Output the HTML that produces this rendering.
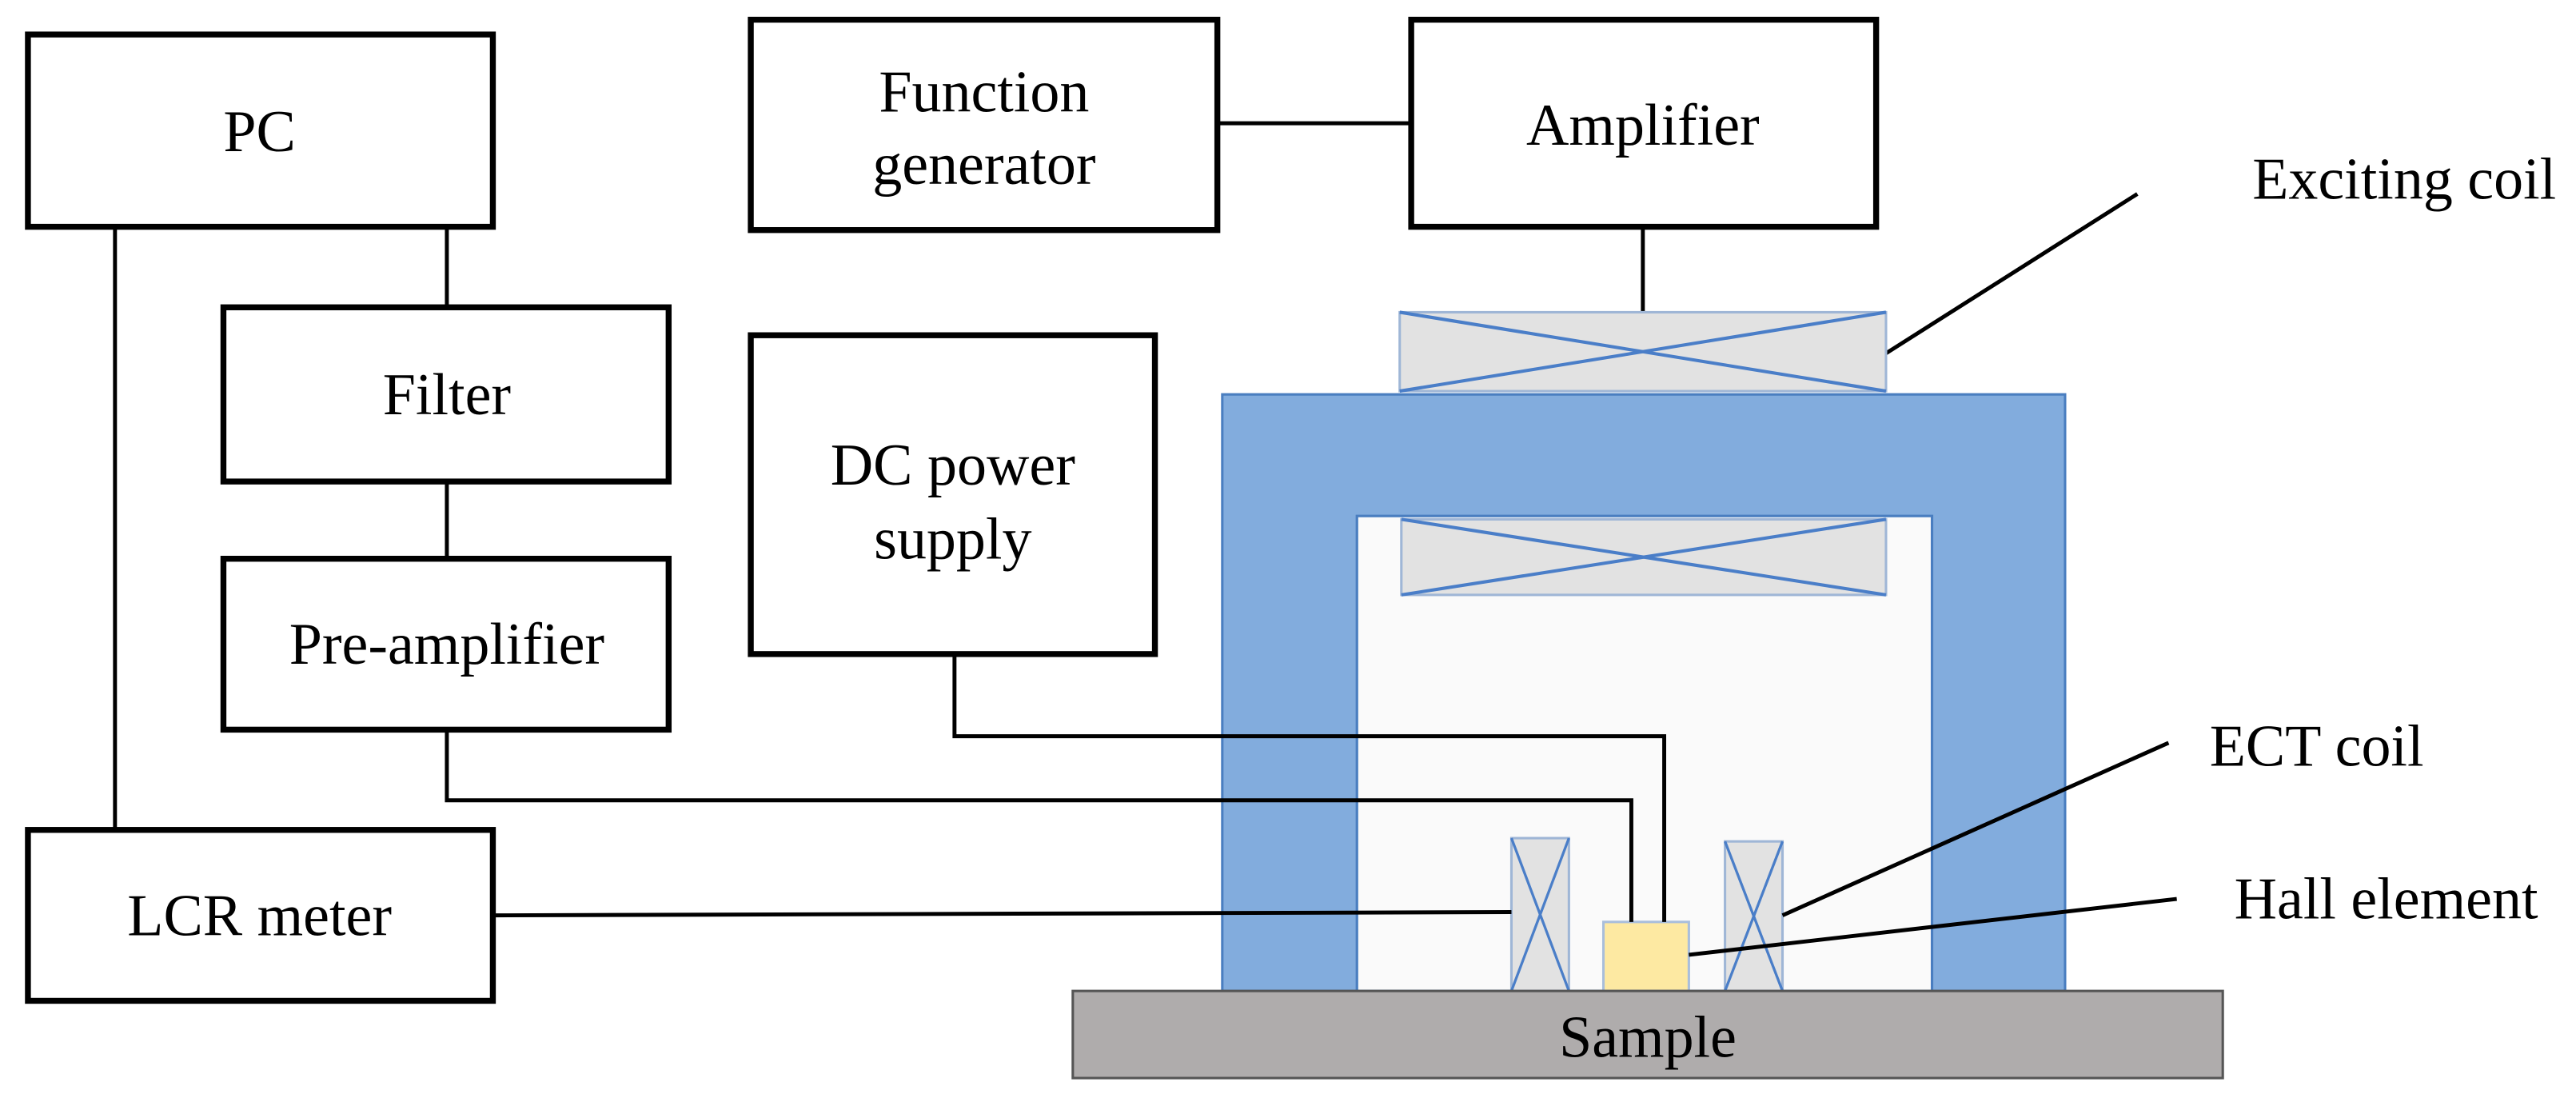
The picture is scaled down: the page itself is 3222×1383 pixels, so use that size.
<!DOCTYPE html>
<html><head><meta charset="utf-8"><style>
html,body{margin:0;padding:0;background:#fff;}
svg{display:block;}
text{font-family:"Liberation Serif",serif;font-size:36px;fill:#000;}
</style></head><body>
<svg width="3222" height="1383" viewBox="0 0 1568 673" preserveAspectRatio="none" xmlns="http://www.w3.org/2000/svg">
<rect width="1568" height="673" fill="#fff"/>
<g fill="none" stroke="#000" stroke-width="2.4">
<line x1="70" y1="138" x2="70" y2="505"/>
<line x1="272" y1="138" x2="272" y2="187"/>
<line x1="272" y1="293" x2="272" y2="340"/>
<line x1="741" y1="75" x2="859" y2="75"/>
<line x1="1000" y1="138" x2="1000" y2="190"/>
<line x1="1148" y1="215" x2="1301" y2="118"/>
</g>
<g fill="#fff" stroke="#000" stroke-width="3.6">
<rect x="17" y="21" width="283" height="117"/>
<rect x="457" y="12" width="284" height="128"/>
<rect x="859" y="12" width="283" height="126"/>
<rect x="136" y="187" width="271" height="106"/>
<rect x="136" y="340" width="271" height="104"/>
<rect x="457" y="204" width="246" height="194"/>
<rect x="17" y="505" width="283" height="104"/>
</g>
<text x="158" y="92" text-anchor="middle">PC</text>
<text x="599" y="68" text-anchor="middle">Function</text>
<text x="599" y="112" text-anchor="middle">generator</text>
<text x="1000" y="88" text-anchor="middle">Amplifier</text>
<text x="272" y="252" text-anchor="middle">Filter</text>
<text x="272" y="404" text-anchor="middle">Pre-amplifier</text>
<text x="580" y="295" text-anchor="middle">DC power</text>
<text x="580" y="340" text-anchor="middle">supply</text>
<text x="158" y="569" text-anchor="middle">LCR meter</text>
<text x="1371" y="121">Exciting coil</text>
<text x="1345" y="466">ECT coil</text>
<text x="1360" y="559">Hall element</text>
<rect x="852" y="190" width="296" height="48" fill="#e2e2e2" stroke="#9fb6d6" stroke-width="1.5"/>
<line x1="852" y1="190" x2="1148" y2="238" stroke="#4a7ec8" stroke-width="2"/>
<line x1="852" y1="238" x2="1148" y2="190" stroke="#4a7ec8" stroke-width="2"/>
<path d="M744 240 H1257 V603 H1176 V314 H826 V603 H744 Z" fill="#82acdd" stroke="#4a7ec0" stroke-width="1.5"/>
<rect x="826" y="314" width="350" height="289" fill="#fafafa" stroke="#4a7ec0" stroke-width="1.5"/>
<rect x="853" y="316" width="295" height="46" fill="#e2e2e2" stroke="#9fb6d6" stroke-width="1.5"/>
<line x1="853" y1="316" x2="1148" y2="362" stroke="#4a7ec8" stroke-width="2"/>
<line x1="853" y1="362" x2="1148" y2="316" stroke="#4a7ec8" stroke-width="2"/>
<rect x="920" y="510" width="35" height="93" fill="#e2e2e2" stroke="#9fb6d6" stroke-width="1.5"/>
<line x1="920" y1="510" x2="955" y2="603" stroke="#4a7ec8" stroke-width="1.6"/>
<line x1="955" y1="510" x2="920" y2="603" stroke="#4a7ec8" stroke-width="1.6"/>
<rect x="1050" y="512" width="35" height="91" fill="#e2e2e2" stroke="#9fb6d6" stroke-width="1.5"/>
<line x1="1050" y1="512" x2="1085" y2="603" stroke="#4a7ec8" stroke-width="1.6"/>
<line x1="1085" y1="512" x2="1050" y2="603" stroke="#4a7ec8" stroke-width="1.6"/>
<rect x="976" y="561" width="52" height="42" fill="#fde9a2" stroke="#a9bedb" stroke-width="1.5"/>
<g fill="none" stroke="#000" stroke-width="2.4">
<polyline points="272,444 272,487 993,487 993,561"/>
<polyline points="581,398 581,448 1013,448 1013,561"/>
<line x1="300" y1="557" x2="920" y2="555"/>
<line x1="1085" y1="557" x2="1320" y2="452"/>
<line x1="1028" y1="581" x2="1325" y2="547"/>
</g>
<rect x="653" y="603" width="700" height="53" fill="#afacac" stroke="#555" stroke-width="1.5"/>
<text x="1003" y="643" text-anchor="middle">Sample</text>
</svg>
</body></html>
